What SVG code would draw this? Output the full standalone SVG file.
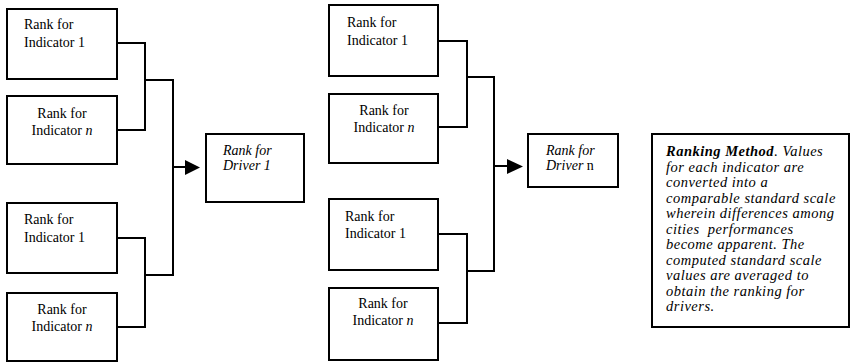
<svg xmlns="http://www.w3.org/2000/svg" width="851" height="363" viewBox="0 0 851 363">
<defs>
<style>
.box{fill:#fff;stroke:#000;stroke-width:2}
.t{font-family:"Liberation Serif","Times New Roman",serif;font-size:14px;fill:#000}
.c{text-anchor:middle}
.i{font-style:italic}
.n{font-family:"Liberation Serif","Times New Roman",serif;font-size:14.5px;font-style:italic;letter-spacing:0.5px;fill:#000}
.con{fill:none;stroke:#000;stroke-width:2}
</style>
</defs>
<rect width="851" height="363" fill="#fff"/>
<g id="connectors">
<path class="con" d="M117 43H145V130H117M145 80H173V275H145M117 238H145V327H117M173 167H186"/>
<polygon points="185,160 200,167.5 185,175" fill="#000"/>
<path class="con" d="M438 41H467V127H438M467 77H494V271H467M438 234H467V323H438M494 166H508"/>
<polygon points="507,159 523,166.5 507,174" fill="#000"/>
</g>
<g id="ind1a"><rect class="box" x="7" y="9" width="110" height="70"/><text class="t" x="24" y="29">Rank for</text><text class="t" x="24" y="47">Indicator 1</text></g>
<g id="indna"><rect class="box" x="7" y="96" width="110" height="68"/><text class="t c" x="62" y="118">Rank for</text><text class="t c" x="62" y="135">Indicator <tspan class="i">n</tspan></text></g>
<g id="ind1b"><rect class="box" x="7" y="203" width="110" height="70"/><text class="t" x="24" y="224">Rank for</text><text class="t" x="24" y="242">Indicator 1</text></g>
<g id="indnb"><rect class="box" x="7" y="293" width="110" height="68"/><text class="t c" x="62" y="314">Rank for</text><text class="t c" x="62" y="331">Indicator <tspan class="i">n</tspan></text></g>
<g id="driver1"><rect class="box" x="206" y="134" width="98" height="68"/><text class="t i" x="223" y="155">Rank for</text><text class="t i" x="223" y="170">Driver 1</text></g>
<g id="ind1c"><rect class="box" x="329" y="5" width="109" height="71"/><text class="t" x="347" y="27">Rank for</text><text class="t" x="347" y="45">Indicator 1</text></g>
<g id="indnc"><rect class="box" x="329" y="94" width="109" height="69"/><text class="t c" x="384" y="115">Rank for</text><text class="t c" x="384" y="132">Indicator <tspan class="i">n</tspan></text></g>
<g id="ind1d"><rect class="box" x="329" y="199" width="109" height="71"/><text class="t" x="345" y="221">Rank for</text><text class="t" x="345" y="238">Indicator 1</text></g>
<g id="indnd"><rect class="box" x="329" y="288" width="109" height="72"/><text class="t c" x="383" y="308">Rank for</text><text class="t c" x="383" y="325">Indicator <tspan class="i">n</tspan></text></g>
<g id="drivern"><rect class="box" x="528" y="134" width="90" height="53"/><text class="t i" x="546" y="155">Rank for</text><text class="t" x="546" y="170"><tspan class="i">Driver</tspan> n</text></g>
<g id="method"><rect class="box" x="652" y="134" width="197" height="193"/>
<text class="n" x="666" y="156"><tspan font-weight="bold">Ranking Method</tspan>. Values</text>
<text class="n" x="666" y="171.5">for each indicator are</text>
<text class="n" x="666" y="187">converted into a</text>
<text class="n" x="666" y="202.5">comparable standard scale</text>
<text class="n" x="666" y="218">wherein differences among</text>
<text class="n" x="666" y="233.5">cities &#160;performances</text>
<text class="n" x="666" y="249">become apparent. The</text>
<text class="n" x="666" y="264.5">computed standard scale</text>
<text class="n" x="666" y="280">values are averaged to</text>
<text class="n" x="666" y="295.5">obtain the ranking for</text>
<text class="n" x="666" y="311">drivers.</text>
</g>
</svg>
